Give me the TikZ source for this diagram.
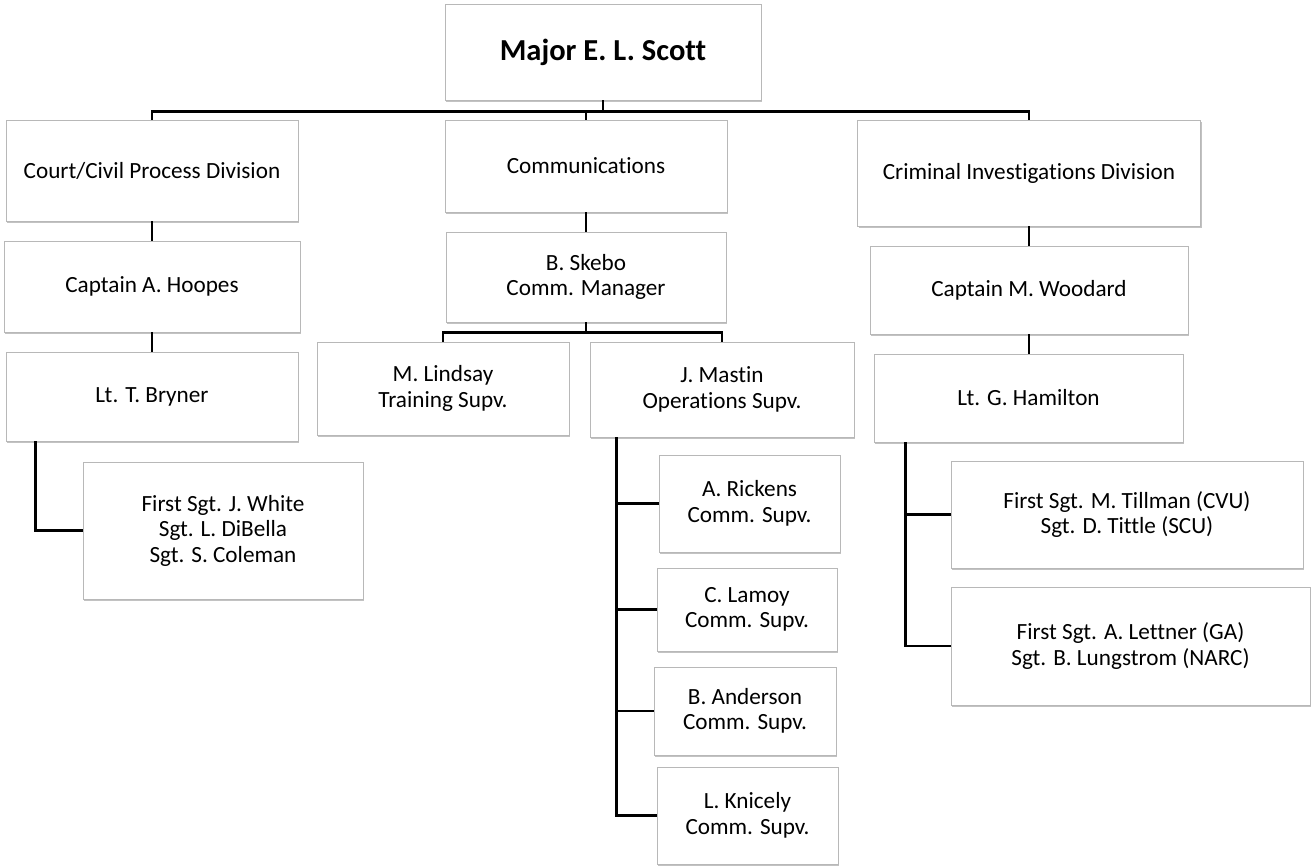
\documentclass[tikz,border=0pt]{standalone}
\usepackage{fontspec}
\setmainfont{Carlito}[Ligatures=NoCommon]
\usetikzlibrary{shadows}
\begin{document}
\begin{tikzpicture}[x=1pt,y=1pt,
  orgbox/.style={draw=black!28, line width=0.8pt, fill=white, align=center, inner sep=0pt,
    font=\fontsize{23.2}{25.5}\selectfont,
    drop shadow={shadow xshift=1.2pt, shadow yshift=-1.5pt, fill=black!40, opacity=0.6}},
  conn/.style={line width=2.5pt, black}]
\useasboundingbox (0,0) rectangle (1314,-865);
% top
\node[orgbox, minimum width=316, minimum height=96, font=\fontsize{30.5}{34}\selectfont\bfseries] (major) at (603,-52) {Major E. L. Scott};
% left column
\node[orgbox, minimum width=292, minimum height=101] (court) at (152,-170.5) {Court/Civil Process Division};
\node[orgbox, minimum width=296, minimum height=91] (hoopes) at (152,-286.5) {Captain A. Hoopes};
\node[orgbox, minimum width=292, minimum height=89] (bryner) at (152,-396.5) {Lt. T. Bryner};
\node[orgbox, minimum width=280, minimum height=137] (white) at (223,-530.5) {First Sgt. J. White\\Sgt. L. DiBella\\Sgt. S. Coleman};
% middle column
\node[orgbox, minimum width=282, minimum height=92] (comm) at (586,-166) {Communications};
\node[orgbox, minimum width=280, minimum height=90] (skebo) at (586,-277) {B. Skebo\\Comm. Manager};
\node[orgbox, minimum width=252, minimum height=93] (lindsay) at (443,-388.5) {M. Lindsay\\Training Supv.};
\node[orgbox, minimum width=264, minimum height=95] (mastin) at (722,-389.5) {J. Mastin\\Operations Supv.};
\node[orgbox, minimum width=181, minimum height=97] (rickens) at (749.5,-503.5) {A. Rickens\\Comm. Supv.};
\node[orgbox, minimum width=180, minimum height=83] (lamoy) at (747,-609.5) {C. Lamoy\\Comm. Supv.};
\node[orgbox, minimum width=182, minimum height=88] (anderson) at (745,-711) {B. Anderson\\Comm. Supv.};
\node[orgbox, minimum width=181, minimum height=97] (knicely) at (747.5,-815.5) {L. Knicely\\Comm. Supv.};
% right column
\node[orgbox, minimum width=343, minimum height=106] (cid) at (1029,-173) {Criminal Investigations Division};
\node[orgbox, minimum width=318, minimum height=88] (woodard) at (1029,-290) {Captain M. Woodard};
\node[orgbox, minimum width=309, minimum height=88] (hamilton) at (1028.5,-398) {Lt. G. Hamilton};
\node[orgbox, minimum width=352, minimum height=107] (tillman) at (1127,-514.5) {First Sgt. M. Tillman (CVU)\\Sgt. D. Tittle (SCU)};
\node[orgbox, minimum width=359, minimum height=118] (lettner) at (1130.5,-646) {First Sgt. A. Lettner (GA)\\Sgt. B. Lungstrom (NARC)};
% connectors
\draw[conn] (major.south) -- ++(0,-11) coordinate (bus);
\draw[conn] (court.north) |- (bus) -| (cid.north);
\draw[conn] (comm.north) -- (comm.north |- bus);
\draw[conn] (court.south) -- (court.south |- hoopes.north);
\draw[conn] (hoopes.south) -- (hoopes.south |- bryner.north);
\draw[conn] ([xshift=30pt]bryner.south west) |- (white.west);
\draw[conn] (comm.south) -- (comm.south |- skebo.north);
\draw[conn] (skebo.south) -- ++(0,-10) coordinate (sbus);
\draw[conn] (lindsay.north) |- (sbus) -| (mastin.north);
\coordinate (mx) at ([xshift=27pt]mastin.south west);
\draw[conn] (mx) |- (knicely.west);
\draw[conn] (rickens.west) -- (rickens.west -| mx);
\draw[conn] (lamoy.west) -- (lamoy.west -| mx);
\draw[conn] (anderson.west) -- (anderson.west -| mx);
\draw[conn] (cid.south) -- (cid.south |- woodard.north);
\draw[conn] (woodard.south) -- (woodard.south |- hamilton.north);
\coordinate (hx) at ([xshift=32pt]hamilton.south west);
\draw[conn] (hx) |- (lettner.west);
\draw[conn] (tillman.west) -- (tillman.west -| hx);
\end{tikzpicture}
\end{document}
